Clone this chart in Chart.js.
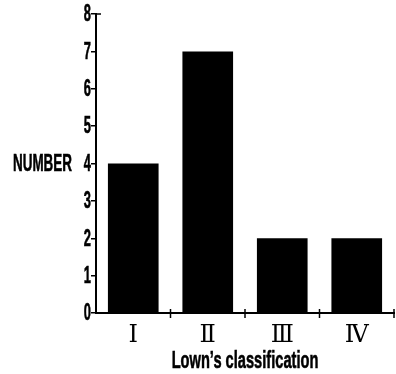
<!DOCTYPE html>
<html>
<head>
<meta charset="utf-8">
<script src="https://cdn.jsdelivr.net/npm/chart.js@4"></script>
<style>
  body { margin: 0; background: #fff; }
</style>
</head>
<body>
<canvas id="c" width="396" height="374"></canvas>
<script>
const categories = ['\u2160', '\u2161', '\u2162', '\u2163'];   // I, II, III, IV
const counts = [4, 7, 2, 2];
const yTicks = [0, 1, 2, 3, 4, 5, 6, 7, 8];
const yTitle = 'NUMBER';
const xTitle = 'Lown\u2019s classification';

const sans = '"Liberation Sans", Arimo, sans-serif';

// the original uses a condensed heavy face: draw those texts squeezed
function narrowText(ctx, text, x, y, size, squeeze, align) {
  ctx.save();
  ctx.font = 'bold ' + size + 'px ' + sans;
  ctx.textAlign = align;
  ctx.textBaseline = 'middle';
  ctx.translate(x, y);
  ctx.scale(squeeze, 1);
  ctx.lineWidth = 0.6;
  ctx.strokeStyle = '#000';
  ctx.fillText(text, 0, 0);
  ctx.strokeText(text, 0, 0);
  ctx.restore();
}

const extras = {
  id: 'extras',
  afterDraw(chart) {
    const {ctx, chartArea, scales} = chart;
    ctx.save();
    ctx.fillStyle = '#000';

    // y tick labels
    yTicks.forEach(v => {
      narrowText(ctx, String(v), chartArea.left - 5, scales.y.getPixelForValue(v) + 1, 23, 0.56, 'right');
    });
    narrowText(ctx, yTitle, 13, (chartArea.top + chartArea.bottom) / 2 + 1, 24, 0.56, 'left');
    narrowText(ctx, xTitle, (chartArea.left + chartArea.right) / 2, 361, 24, 0.61, 'center');

    // x ticks at the category boundaries, crossing the axis
    ctx.strokeStyle = '#000';
    ctx.lineWidth = 1.5;
    const x = scales.x;
    const step = x.getPixelForValue(1) - x.getPixelForValue(0);
    for (let i = 0; i < categories.length; i++) {
      const px = x.getPixelForValue(i) + step / 2;
      ctx.beginPath();
      ctx.moveTo(px, chartArea.bottom - 4);
      ctx.lineTo(px, chartArea.bottom + 5);
      ctx.stroke();
    }
    // short tick to the right at the top of the y axis
    const yTop = scales.y.getPixelForValue(8);
    ctx.beginPath();
    ctx.moveTo(chartArea.left, yTop);
    ctx.lineTo(chartArea.left + 5, yTop);
    ctx.stroke();
    ctx.restore();
  }
};

new Chart(document.getElementById('c'), {
  type: 'bar',
  data: {
    labels: categories,
    datasets: [{
      data: counts,
      backgroundColor: '#000',
      borderWidth: 0,
      barPercentage: 0.68,
      categoryPercentage: 1
    }]
  },
  options: {
    responsive: false,
    animation: false,
    layout: { padding: { top: 14, right: 2, left: 0, bottom: 0 } },
    plugins: { legend: { display: false }, tooltip: { enabled: false } },
    scales: {
      x: {
        grid: { display: false },
        border: { display: true, color: '#000', width: 2 },
        ticks: {
          color: '#000',
          padding: 0,
          font: { family: '"DejaVu Serif", "Liberation Serif", serif', size: 24 }
        },
        afterFit(scale) { scale.height = 61; }
      },
      y: {
        min: 0,
        max: 8,
        afterBuildTicks(scale) { scale.ticks = yTicks.map(v => ({value: v})); },
        grid: { drawOnChartArea: false, tickLength: 5, color: '#000', lineWidth: 1.5 },
        border: { display: true, color: '#000', width: 2 },
        ticks: { color: 'rgba(0,0,0,0)', padding: 1, font: { size: 18 } },
        afterFit(scale) { scale.width = 96; }
      }
    }
  },
  plugins: [extras]
});
</script>
</body>
</html>
